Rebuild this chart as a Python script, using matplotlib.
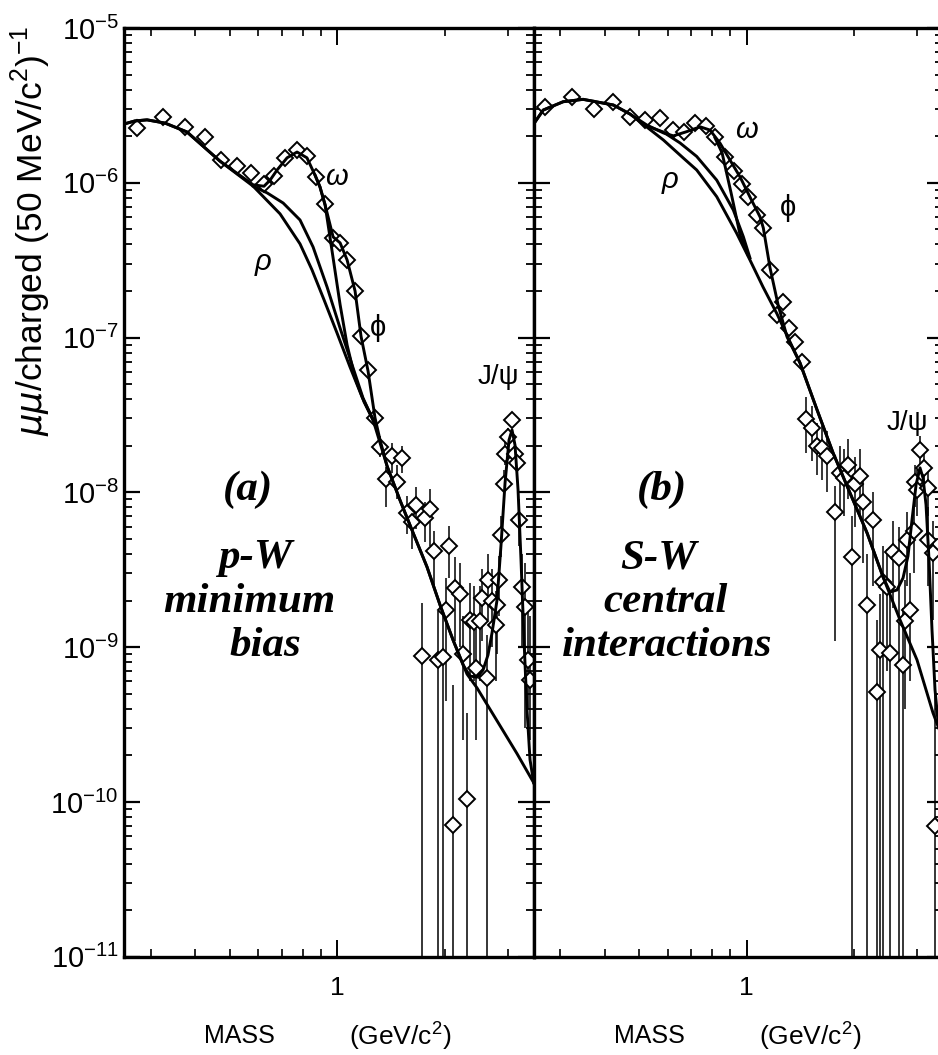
"""
:synopsis: Dimuon mass spectra per charged particle, p-W and S-W panels.
"""

# third party imports
from matplotlib import pyplot, ticker
import numpy


# Panel (a): p-W minimum bias, data points
PW_MASS = [0.274, 0.324, 0.374, 0.426, 0.472, 0.523, 0.572, 0.623, 0.666,
           0.714, 0.770, 0.821, 0.870, 0.921, 0.971, 1.018, 1.067, 1.122,
           1.165, 1.221, 1.275, 1.317, 1.369, 1.420, 1.467, 1.515, 1.571,
           1.622, 1.662, 1.723, 1.761, 1.819, 1.866, 1.918, 1.973, 2.01,
           2.06, 2.11, 2.14, 2.21, 2.25, 2.31, 2.35, 2.42, 2.45, 2.51, 2.55,
           2.62, 2.65, 2.71, 2.78, 2.80, 2.84, 2.87, 2.93, 2.95, 3.01, 3.08,
           3.15, 3.18, 3.23, 3.29, 3.36, 3.41, 3.46]
PW_VALUE = [2.25e-6, 2.65e-6, 2.28e-6, 1.97e-6, 1.40e-6, 1.29e-6, 1.16e-6,
            9.8e-7, 1.11e-6, 1.44e-6, 1.64e-6, 1.49e-6, 1.09e-6, 7.3e-7,
            4.43e-7, 4.09e-7, 3.19e-7, 2.01e-7, 1.02e-7, 6.13e-8, 3.01e-8,
            1.97e-8, 1.22e-8, 1.72e-8, 1.17e-8, 1.66e-8, 7.4e-9, 6.4e-9,
            8.3e-9, 8.7e-10, 6.8e-9, 7.8e-9, 4.2e-9, 8.3e-10, 8.6e-10,
            1.74e-9, 4.5e-9, 7.1e-11, 2.4e-9, 2.2e-9, 9.0e-10, 1.04e-10,
            1.5e-9, 1.46e-9, 7.3e-10, 1.48e-9, 2.07e-9, 6.3e-10, 2.7e-9,
            2.0e-9, 1.39e-9, 1.87e-9, 2.7e-9, 5.3e-9, 1.14e-8, 1.77e-8,
            2.28e-8, 2.93e-8, 1.77e-8, 1.54e-8, 6.6e-9, 2.43e-9, 1.82e-9,
            8.3e-10, 6.1e-10]

# Panel (a): error bars (lower and upper end)
PW_BAR_MASS = [1.317, 1.369, 1.420, 1.467, 1.515, 1.571, 1.622, 1.662, 1.723,
               1.761, 1.819, 1.866, 1.918, 1.973, 2.01, 2.06, 2.11, 2.14,
               2.21, 2.25, 2.31, 2.35, 2.42, 2.45, 2.51, 2.55, 2.62, 2.65,
               2.71, 2.78, 2.80, 2.84, 2.87, 2.93, 2.95, 3.01, 3.08, 3.15,
               3.18, 3.23, 3.29, 3.36, 3.41, 3.46]
PW_BAR_LOW = [1.7e-8, 8.0e-9, 1.33e-8, 9.0e-9, 1.33e-8, 5.4e-9, 4.3e-9,
              5.8e-9, 1e-12, 4.8e-9, 4.5e-9, 2.5e-9, 1e-12, 1e-12, 4.5e-10,
              2.8e-9, 1e-12, 1.1e-9, 1.0e-9, 2.5e-10, 1e-12, 6e-10, 6e-10,
              2.5e-10, 6e-10, 1.1e-9, 1e-12, 1.5e-9, 1.0e-9, 6e-10, 9e-10,
              1.6e-9, 3.8e-9, 9e-9, 1.5e-8, 2.0e-8, 2.6e-8, 1.5e-8, 1.3e-8,
              4.5e-9, 1e-9, 3e-10, 4e-10, 2.5e-10]
PW_BAR_HIGH = [2.3e-8, 1.46e-8, 2.08e-8, 1.5e-8, 2.0e-8, 9.5e-9, 8.2e-9,
               1.08e-8, 1.93e-9, 8.7e-9, 1.05e-8, 5.6e-9, 1.7e-9, 1.8e-9,
               2.8e-9, 6.1e-9, 5.7e-10, 3.8e-9, 3.5e-9, 1.6e-9, 3.75e-10,
               2.6e-9, 2.5e-9, 1.3e-9, 2.5e-9, 3.2e-9, 1.2e-9, 4.0e-9, 3.2e-9,
               2.3e-9, 2.9e-9, 3.9e-9, 7e-9, 1.4e-8, 2.1e-8, 2.6e-8, 3.3e-8,
               2.1e-8, 1.8e-8, 9e-9, 4e-9, 3.5e-9, 1.8e-9, 1.6e-9]

# Panel (a): fitted curves
PW_CONT_MASS = [0.253, 0.271, 0.293, 0.329, 0.379, 0.469, 0.581, 0.691,
                0.786, 0.849, 0.918, 0.998, 1.085, 1.173, 1.259, 1.378,
                1.498, 1.629, 1.783, 1.940, 2.110, 2.308, 2.462, 2.802,
                3.187, 3.549]
PW_CONT_VALUE = [2.40e-6, 2.51e-6, 2.55e-6, 2.43e-6, 2.13e-6, 1.38e-6,
                 9.5e-7, 6.3e-7, 4.03e-7, 2.74e-7, 1.75e-7, 1.07e-7, 6.46e-8,
                 4.13e-8, 2.94e-8, 1.48e-8, 8.9e-9, 5.5e-9, 3.30e-9, 1.87e-9,
                 1.11e-9, 6.7e-10, 5.45e-10, 3.34e-10, 2.05e-10, 1.33e-10]
PW_RHO_MASS = [0.581, 0.636, 0.705, 0.786, 0.855, 0.936, 1.018, 1.100,
               1.180, 1.259]
PW_RHO_VALUE = [9.5e-7, 8.6e-7, 7.4e-7, 5.75e-7, 3.85e-7, 2.12e-7, 1.15e-7,
                6.65e-8, 4.07e-8, 2.94e-8]
PW_OMEGA_MASS = [0.866, 0.894, 0.924, 0.973, 1.018, 1.065, 1.121, 1.188,
                 1.259]
PW_OMEGA_VALUE = [1.12e-6, 9.4e-7, 7.2e-7, 3.27e-7, 1.63e-7, 8.95e-8, 5.48e-8,
                  3.84e-8, 2.94e-8]
PW_TOTAL_MASS = [0.253, 0.271, 0.293, 0.329, 0.379, 0.469, 0.581, 0.623,
                 0.648, 0.678, 0.723, 0.771, 0.822, 0.866, 0.894, 0.924,
                 0.973, 1.018, 1.065, 1.121, 1.165, 1.219, 1.275, 1.317,
                 1.378, 1.498, 1.629, 1.783, 1.940, 2.110, 2.249, 2.353,
                 2.462, 2.559, 2.643, 2.713, 2.802, 2.875, 2.950, 3.027,
                 3.086, 3.146, 3.208, 3.270, 3.334, 3.399, 3.466, 3.549]
PW_TOTAL_VALUE = [2.40e-6, 2.51e-6, 2.55e-6, 2.43e-6, 2.13e-6, 1.38e-6,
                  9.7e-7, 9.5e-7, 1.04e-6, 1.21e-6, 1.45e-6, 1.58e-6, 1.45e-6,
                  1.12e-6, 9.4e-7, 7.2e-7, 4.47e-7, 4.09e-7, 3.17e-7, 2.00e-7,
                  1.02e-7, 6.08e-8, 3.03e-8, 2.18e-8, 1.48e-8, 8.9e-9, 5.5e-9,
                  3.30e-9, 1.87e-9, 1.11e-9, 7.7e-10, 6.5e-10, 6.4e-10,
                  7.1e-10, 8.9e-10, 1.24e-9, 2.02e-9, 4.6e-9, 1.15e-8,
                  2.18e-8, 2.53e-8, 2.02e-8, 1.04e-8, 3.66e-9, 1.11e-9,
                  3.94e-10, 1.87e-10, 1.33e-10]

# Panel (b): S-W central interactions, data points
SW_MASS = [0.272, 0.324, 0.373, 0.423, 0.471, 0.519, 0.572, 0.620, 0.667,
           0.717, 0.769, 0.817, 0.869, 0.921, 0.968, 1.010, 1.067, 1.113,
           1.162, 1.213, 1.266, 1.316, 1.366, 1.426, 1.466, 1.521, 1.571,
           1.622, 1.675, 1.767, 1.825, 1.873, 1.926, 1.968, 2.011, 2.077,
           2.121, 2.177, 2.263, 2.322, 2.363, 2.404, 2.467, 2.52, 2.574,
           2.676, 2.735, 2.776, 2.807, 2.867, 2.942, 2.961, 3.005, 3.058,
           3.138, 3.214, 3.227, 3.332, 3.369]
SW_VALUE = [3.09e-6, 3.58e-6, 2.98e-6, 3.33e-6, 2.67e-6, 2.55e-6, 2.64e-6,
            2.18e-6, 2.14e-6, 2.42e-6, 2.32e-6, 1.97e-6, 1.47e-6, 1.19e-6,
            9.75e-7, 8.13e-7, 6.15e-7, 5.08e-7, 2.74e-7, 1.40e-7, 1.70e-7,
            1.15e-7, 9.4e-8, 6.98e-8, 2.96e-8, 2.59e-8, 2.0e-8, 1.94e-8,
            1.72e-8, 7.5e-9, 1.33e-8, 1.24e-8, 1.51e-8, 3.83e-9, 1.14e-8,
            1.28e-8, 8.6e-9, 1.87e-9, 6.6e-9, 5.1e-10, 9.6e-10, 2.64e-9,
            2.45e-9, 9.2e-10, 4.1e-9, 3.77e-9, 7.7e-10, 1.48e-9, 4.9e-9,
            1.74e-9, 5.6e-9, 1.17e-8, 1.04e-8, 1.88e-8, 1.44e-8, 1.07e-8,
            4.9e-9, 4.06e-9, 7.0e-11]

# Panel (b): error bars (lower and upper end)
SW_BAR_MASS = [1.466, 1.521, 1.571, 1.622, 1.675, 1.767, 1.825, 1.873, 1.926,
               1.968, 2.011, 2.077, 2.121, 2.177, 2.263, 2.322, 2.363, 2.404,
               2.467, 2.52, 2.574, 2.676, 2.735, 2.776, 2.807, 2.867, 2.942,
               2.961, 3.005, 3.058, 3.138, 3.214, 3.227, 3.332, 3.369]
SW_BAR_LOW = [1.8e-8, 1.6e-8, 1.3e-8, 1.2e-8, 1.0e-8, 1.1e-9, 7e-9, 7e-9,
              9e-9, 1e-12, 6e-9, 7e-9, 3.5e-9, 1e-12, 2.5e-9, 1e-12, 1e-12,
              1e-12, 7e-10, 1e-12, 1.8e-9, 1e-12, 1e-12, 4e-10, 2.5e-9,
              6e-10, 3e-9, 8e-9, 7e-9, 1.5e-8, 1.1e-8, 7e-9, 2.5e-9, 1.5e-9,
              1e-12]
SW_BAR_HIGH = [4.15e-8, 3.6e-8, 2.8e-8, 2.7e-8, 2.5e-8, 1.1e-8, 2.0e-8,
               1.9e-8, 2.2e-8, 7e-9, 1.7e-8, 1.9e-8, 1.3e-8, 4e-9, 1.0e-8,
               1.5e-9, 2.2e-9, 4.5e-9, 4.3e-9, 2.2e-9, 6.5e-9, 6e-9, 1.8e-9,
               2.7e-9, 7.5e-9, 3e-9, 8e-9, 1.5e-8, 1.4e-8, 2.3e-8, 1.8e-8,
               1.4e-8, 8e-9, 6.5e-9, 5e-10]

# Panel (b): fitted curves
SW_CONT_MASS = [0.253, 0.269, 0.306, 0.348, 0.423, 0.471, 0.525, 0.584,
                0.663, 0.724, 0.824, 0.937, 1.021, 1.111, 1.216, 1.322,
                1.410, 1.574, 1.745, 1.947, 2.173, 2.409, 2.688, 2.999,
                3.325, 3.549]
SW_CONT_VALUE = [2.40e-6, 2.95e-6, 3.34e-6, 3.46e-6, 3.18e-6, 2.78e-6,
                 2.29e-6, 1.89e-6, 1.45e-6, 1.21e-6, 8.13e-7, 4.72e-7,
                 3.17e-7, 2.12e-7, 1.42e-7, 9.37e-8, 6.86e-8, 3.41e-8,
                 1.80e-8, 9.9e-9, 5.47e-9, 2.84e-9, 1.50e-9, 8.27e-10,
                 3.76e-10, 2.52e-10]
SW_RHO_MASS = [0.525, 0.583, 0.650, 0.724, 0.824, 0.917, 0.978, 1.021]
SW_RHO_VALUE = [2.33e-6, 2.13e-6, 1.81e-6, 1.48e-6, 1.04e-6, 6.67e-7,
                4.49e-7, 3.27e-7]
SW_OMEGA_MASS = [0.815, 0.853, 0.904, 0.958, 1.008]
SW_OMEGA_VALUE = [1.95e-6, 1.56e-6, 8.59e-7, 4.60e-7, 3.42e-7]
SW_TOTAL_MASS = [0.253, 0.269, 0.306, 0.348, 0.423, 0.471, 0.525, 0.584,
                 0.623, 0.679, 0.740, 0.789, 0.842, 0.898, 0.958, 1.021,
                 1.090, 1.113, 1.162, 1.224, 1.297, 1.410, 1.574, 1.745,
                 1.947, 2.173, 2.409, 2.520, 2.636, 2.741, 2.830, 2.904,
                 2.981, 3.058, 3.118, 3.179, 3.241, 3.304, 3.369, 3.435,
                 3.549]
SW_TOTAL_VALUE = [2.40e-6, 2.95e-6, 3.34e-6, 3.46e-6, 3.18e-6, 2.78e-6,
                  2.36e-6, 2.10e-6, 2.01e-6, 2.14e-6, 2.30e-6, 2.19e-6,
                  1.80e-6, 1.40e-6, 1.09e-6, 8.09e-7, 6.01e-7, 5.10e-7,
                  2.82e-7, 1.63e-7, 1.01e-7, 6.86e-8, 3.41e-8, 1.80e-8,
                  9.9e-9, 5.47e-9, 2.84e-9, 2.27e-9, 2.34e-9, 2.80e-9,
                  3.88e-9, 6.64e-9, 1.12e-8, 1.44e-8, 1.24e-8, 8.3e-9,
                  3.66e-9, 1.29e-9, 5.29e-10, 3.29e-10, 2.52e-10]

MASS_RANGE = (0.253, 3.549)
VALUE_RANGE = (1e-11, 1e-5)
DECADES = [1e-11, 1e-10, 1e-9, 1e-8, 1e-7, 1e-6, 1e-5]


def style_axes(ax, show_ylabels):
    """Log axes with inward ticks on all four sides.

    :param matplotlib.axes.Axes ax: The axes being styled
    :param bool show_ylabels: Whether to print the decade labels
    """
    ax.set_xscale('log')
    ax.set_yscale('log')
    ax.set_xlim(*MASS_RANGE)
    ax.set_ylim(*VALUE_RANGE)

    ax.set_xticks([1])
    ax.set_xticklabels(['1'])
    ax.xaxis.set_minor_locator(
        ticker.LogLocator(base=10, subs=numpy.arange(2, 10), numticks=50))
    ax.xaxis.set_minor_formatter(ticker.NullFormatter())
    ax.yaxis.set_major_locator(ticker.FixedLocator(DECADES))
    ax.yaxis.set_major_formatter(ticker.LogFormatterSciNotation())
    ax.yaxis.set_minor_locator(
        ticker.LogLocator(base=10, subs=numpy.arange(2, 10), numticks=100))
    ax.yaxis.set_minor_formatter(ticker.NullFormatter())

    ax.tick_params(which='both', direction='in', top=True, right=True,
                   bottom=True, left=True, labelleft=show_ylabels)
    ax.tick_params(axis='y', which='major', length=11.5, width=1.6,
                   labelsize=21, pad=4)
    ax.tick_params(axis='y', which='minor', length=6, width=1.3)
    ax.tick_params(axis='x', which='major', length=12, width=1.4,
                   labelsize=19, pad=14)
    ax.tick_params(axis='x', which='minor', length=6, width=1.2)
    for spine in ax.spines.values():
        spine.set_linewidth(2.4)

    ax.text(0.282, -0.0854, 'MASS', transform=ax.transAxes, fontsize=18,
            ha='center', va='center')
    ax.text(0.675, -0.0854, r'(GeV/c$^\mathregular{2}$)',
            transform=ax.transAxes, fontsize=19, ha='center', va='center')


def draw_panel(ax, points, bars, curves):
    """Draw data with error bars and the fitted curves.

    :param matplotlib.axes.Axes ax: The axes to draw into
    :param tuple points: Mass and value of the data points
    :param tuple bars: Mass, lower and upper end of the error bars
    :param list curves: (mass, value) pairs of the fitted curves
    """
    ax.vlines(bars[0], bars[1], bars[2], colors='black', linewidth=1.1,
              zorder=1)
    ax.plot(points[0], points[1], linestyle='none', marker='D',
            markersize=8.5, markerfacecolor='white', markeredgecolor='black',
            markeredgewidth=1.4, zorder=2)
    for mass, value in curves:
        ax.plot(mass, value, color='black', linewidth=2.1, zorder=3,
                solid_joinstyle='round')


pyplot.rcParams['font.family'] = ['Liberation Sans', 'DejaVu Sans']

fig = pyplot.figure(figsize=(9.38, 10.55), dpi=100)
ax_a = fig.add_axes([124.3 / 938, 1 - 956.7 / 1055, 409.4 / 938,
                     928.7 / 1055])
ax_b = fig.add_axes([533.7 / 938, 1 - 956.7 / 1055, 409.4 / 938,
                     928.7 / 1055])

style_axes(ax_a, True)
style_axes(ax_b, False)

draw_panel(ax_a, (PW_MASS, PW_VALUE),
           (PW_BAR_MASS, PW_BAR_LOW, PW_BAR_HIGH),
           [(PW_CONT_MASS, PW_CONT_VALUE), (PW_RHO_MASS, PW_RHO_VALUE),
            (PW_OMEGA_MASS, PW_OMEGA_VALUE), (PW_TOTAL_MASS, PW_TOTAL_VALUE)])
draw_panel(ax_b, (SW_MASS, SW_VALUE),
           (SW_BAR_MASS, SW_BAR_LOW, SW_BAR_HIGH),
           [(SW_CONT_MASS, SW_CONT_VALUE), (SW_RHO_MASS, SW_RHO_VALUE),
            (SW_OMEGA_MASS, SW_OMEGA_VALUE), (SW_TOTAL_MASS, SW_TOTAL_VALUE)])

# Resonance labels
greek = dict(fontsize=21, ha='center', va='center')
ax_a.text(0.3395, 0.748, 'ρ', transform=ax_a.transAxes, style='italic',
          **greek)
ax_a.text(0.5188, 0.8396, 'ω', transform=ax_a.transAxes, style='italic',
          **greek)
ax_a.text(0.6204, 0.6766, 'ϕ', transform=ax_a.transAxes, **greek)
ax_a.text(0.9135, 0.6242, 'J/ψ', transform=ax_a.transAxes, fontsize=20,
          ha='center', va='center')
ax_b.text(0.3329, 0.8364, 'ρ', transform=ax_b.transAxes, style='italic',
          **greek)
ax_b.text(0.5203, 0.8902, 'ω', transform=ax_b.transAxes, style='italic',
          **greek)
ax_b.text(0.6219, 0.8059, 'ϕ', transform=ax_b.transAxes, **greek)
ax_b.text(0.9118, 0.5747, 'J/ψ', transform=ax_b.transAxes, fontsize=20,
          ha='center', va='center')

# Panel captions
caption = dict(family='Liberation Serif', style='italic', weight='bold',
               fontsize=31, ha='center', va='baseline')
for ax, lines, xs in ((ax_a, ('(a)', 'p-W', 'minimum', 'bias'),
                       (0.302, 0.320, 0.306, 0.344)),
                      (ax_b, ('(b)', 'S-W', 'central', 'interactions'),
                       (0.313, 0.304, 0.321, 0.326))):
    for line, x, y in zip(lines, xs, (0.4918, 0.4185, 0.3712, 0.3238)):
        ax.text(x, y, line, transform=ax.transAxes, **caption)

fig.text(31 / 938, 1 - 231 / 1055,
         r'$\mu\mu$/charged (50 MeV/c$^\mathregular{2}$)$^\mathregular{-1}$',
         rotation=90, fontsize=25.5, ha='center', va='center')

fig.savefig('out.png', dpi=100)
